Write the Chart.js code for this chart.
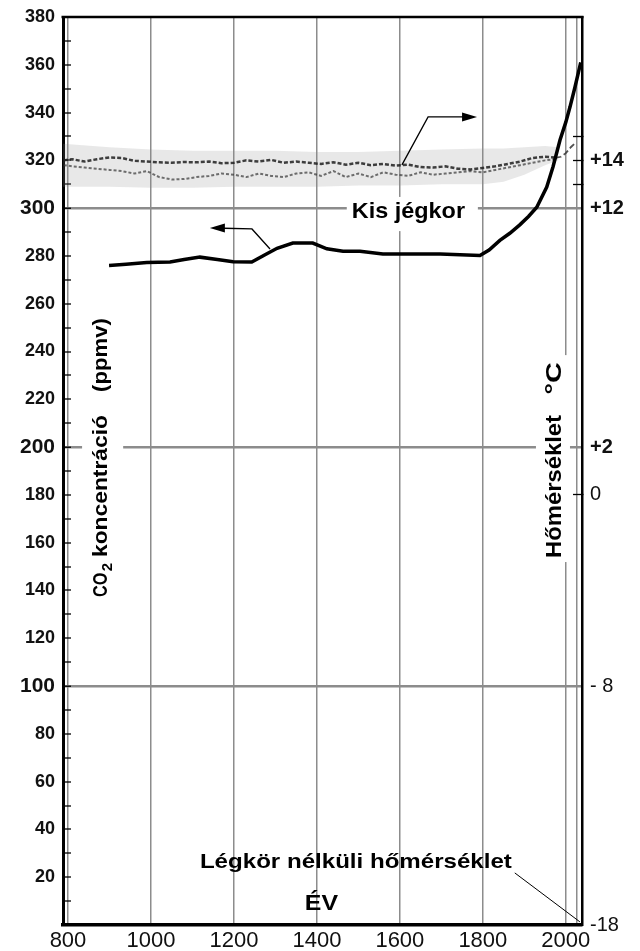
<!DOCTYPE html>
<html><head><meta charset="utf-8">
<script src="https://cdn.jsdelivr.net/npm/chart.js@4/dist/chart.umd.min.js"></script>
<style>html,body{margin:0;padding:0;background:#fff}#wrap{width:640px;height:951px}</style>
</head><body><div id="wrap"><canvas id="c" width="640" height="951"></canvas></div>
<script>
// ---- data ----
const co2Years = [899, 940, 990, 1046, 1080, 1118, 1160, 1198, 1243, 1275, 1304, 1342, 1390, 1424, 1463, 1504, 1559, 1600, 1697, 1793, 1815, 1841, 1865, 1889, 1910, 1930, 1954, 1969, 1986, 2000, 2010, 2022, 2036];
const co2Ppm   = [276, 276.5, 277.3, 277.5, 278.5, 279.5, 278.5, 277.6, 277.5, 280.5, 283.2, 285.4, 285.4, 283, 282, 282, 280.8, 280.8, 280.8, 280.2, 282.5, 286.5, 289.5, 293, 296.5, 300.4, 308.8, 317.2, 328.5, 336, 342.3, 350.6, 361];

const tempYears = [790, 810, 840, 870, 900, 930, 960, 990, 1020, 1050, 1080, 1110, 1140, 1170, 1200, 1230, 1260, 1290, 1320, 1350, 1380, 1410, 1440, 1470, 1500, 1530, 1560, 1590, 1620, 1650, 1680, 1710, 1740, 1770, 1800, 1830, 1860, 1890, 1920, 1950, 1975];
const tempUpper = [14.0, 14.05, 13.95, 14.05, 14.12, 14.1, 13.98, 13.95, 13.92, 13.9, 13.93, 13.92, 13.95, 13.88, 13.9, 14.0, 13.95, 14.02, 13.9, 13.95, 13.9, 13.85, 13.92, 13.82, 13.9, 13.8, 13.85, 13.78, 13.82, 13.72, 13.7, 13.75, 13.65, 13.62, 13.68, 13.75, 13.85, 13.95, 14.1, 14.15, 14.12];
const tempLower = [13.8, 13.75, 13.7, 13.65, 13.6, 13.55, 13.45, 13.55, 13.3, 13.2, 13.22, 13.3, 13.35, 13.45, 13.4, 13.3, 13.45, 13.35, 13.3, 13.45, 13.5, 13.35, 13.55, 13.3, 13.45, 13.3, 13.5, 13.4, 13.35, 13.5, 13.4, 13.45, 13.5, 13.55, 13.5, 13.6, 13.7, 13.8, 13.9, 14.0, 14.05];

const recentYears = [1975, 1988, 2000, 2012, 2024];
const recentTemp  = [14.1, 14.15, 14.3, 14.55, 14.75];

const bandYears  = [788, 900, 1000, 1100, 1200, 1300, 1400, 1500, 1600, 1700, 1800, 1850, 1900, 1950, 1982];
const bandTop    = [14.7, 14.55, 14.45, 14.4, 14.4, 14.4, 14.35, 14.35, 14.4, 14.45, 14.5, 14.5, 14.55, 14.6, 14.55];
const bandBottom = [12.9, 12.9, 12.85, 12.85, 12.9, 12.9, 12.9, 12.95, 12.95, 13.0, 13.0, 13.1, 13.4, 13.8, 14.0];

const xTickYears = [800, 1000, 1200, 1400, 1600, 1800, 2000];
const xExtraLines = [2026];
const co2MajorLines = [100, 200, 300];
const tempTickValues = [-18, -8, 0, 2, 12, 13, 14, 15];
const tempTickLabels = {'-18': '-18', '-8': '- 8', '0': '0', '2': '+2', '12': '+12', '14': '+14'};
const tempBoldTicks = [2, 12, 14];

// ---- helpers ----
const FF = '"Liberation Sans", Arial, sans-serif';
const pts = (xs, ys) => xs.map((x, i) => ({x: x, y: ys[i]}));

function spanText(ctx, text, x0, x1, y) {
  const w = ctx.measureText(text).width;
  ctx.save();
  ctx.translate(x0, y);
  ctx.scale((x1 - x0) / w, 1);
  ctx.textAlign = 'left';
  ctx.textBaseline = 'alphabetic';
  ctx.fillText(text, 0, 0);
  ctx.restore();
}

const notes = {
  kis:   {text: 'Kis jégkor', x0: 1484, x1: 1757, base: 295.9, font: 'bold 22px ' + FF, box: [1472, 1788, 304.7, 290.4]},
  legk:  {text: 'Légkör nélküli hőmérséklet', x0: 1118, x1: 1870, base: 23.9, font: 'bold 21px ' + FF},
  ev:    {text: 'ÉV', x0: 1371, x1: 1451, base: 6.3, font: 'bold 22px ' + FF},
  co2:   {baseYear: 894, box: [834, 933, 257.4, 133.9]},
  hom:   {baseYear: 1988, box: [1928, 2010, 238.5, 151.9]}
};

const annotPlugin = {
  id: 'annot',
  beforeDatasetsDraw(chart) {
    const ctx = chart.ctx, xs = chart.scales.x, ys = chart.scales.y;
    const X = v => xs.getPixelForValue(v), Y = v => ys.getPixelForValue(v);
    ctx.save();
    ctx.fillStyle = '#fff';
    for (const k of ['kis', 'co2', 'hom']) {
      const b = notes[k].box;
      ctx.fillRect(X(b[0]), Y(b[2]), X(b[1]) - X(b[0]), Y(b[3]) - Y(b[2]));
    }
    ctx.fillStyle = '#000';
    for (const k of ['kis', 'legk', 'ev']) {
      const n = notes[k];
      ctx.font = n.font;
      spanText(ctx, n.text, X(n.x0), X(n.x1), Y(n.base));
    }
    const rot = (baseYear, pieces) => {
      const bx = X(baseYear);
      ctx.save();
      ctx.translate(bx, 0);
      ctx.rotate(-Math.PI / 2);
      for (const p of pieces) {
        ctx.font = p.font;
        spanText(ctx, p.text, -Y(p.from), -Y(p.to), p.dy || 0);
      }
      ctx.restore();
    };
    rot(notes.co2.baseYear, [
      {text: 'CO', font: 'bold 21px ' + FF, from: 137.3, to: 147.5},
      {text: '2', font: 'bold 15px ' + FF, from: 148, to: 151.5, dy: 5},
      {text: 'koncentráció', font: 'bold 21px ' + FF, from: 154, to: 213.4},
      {text: '(ppmv)', font: 'bold 21px ' + FF, from: 223.1, to: 254}
    ]);
    rot(notes.hom.baseYear, [
      {text: 'Hőmérséklet', font: 'bold 22px ' + FF, from: 153.6, to: 213.4},
      {text: '°C', font: 'bold 22px ' + FF, from: 222, to: 235.6}
    ]);
    ctx.restore();
  },
  afterDatasetsDraw(chart) {
    const ctx = chart.ctx, xs = chart.scales.x, ys = chart.scales.y;
    const X = v => xs.getPixelForValue(v), Y = v => ys.getPixelForValue(v);
    ctx.save();
    ctx.strokeStyle = '#000';
    ctx.fillStyle = '#000';
    ctx.lineWidth = 1.3;
    ctx.beginPath();
    ctx.moveTo(X(1605), Y(318.1)); ctx.lineTo(X(1668), Y(338.2)); ctx.lineTo(X(1752), Y(338.2));
    ctx.stroke();
    let tx = X(1786), ty = Y(338.2);
    ctx.beginPath(); ctx.moveTo(tx, ty); ctx.lineTo(tx - 15, ty - 4.5); ctx.lineTo(tx - 15, ty + 4.5); ctx.closePath(); ctx.fill();
    ctx.beginPath();
    ctx.moveTo(X(1287), Y(282.9)); ctx.lineTo(X(1243.5), Y(291.3)); ctx.lineTo(X(1175), Y(291.6));
    ctx.stroke();
    tx = X(1142); ty = Y(291.7);
    ctx.beginPath(); ctx.moveTo(tx, ty); ctx.lineTo(tx + 15, ty - 4.5); ctx.lineTo(tx + 15, ty + 4.5); ctx.closePath(); ctx.fill();
    ctx.lineWidth = 1;
    ctx.beginPath(); ctx.moveTo(X(1877), Y(21.8)); ctx.lineTo(X(2034), Y(1.3)); ctx.stroke();
    const ca = chart.chartArea;
    ctx.lineWidth = 2.5;
    ctx.beginPath(); ctx.moveTo(ca.left - 1.5, ca.top); ctx.lineTo(ca.right + 1.5, ca.top); ctx.stroke();
    ctx.restore();
  }
};

const noVertPad = s => { s.paddingTop = 0; s.paddingBottom = 0; };

new Chart(document.getElementById('c'), {
  type: 'line',
  data: {
    datasets: [
      {data: pts(bandYears, bandTop), yAxisID: 'y1', borderWidth: 0, borderColor: 'rgba(0,0,0,0)', pointRadius: 0, fill: false, order: 3},
      {data: pts(bandYears, bandBottom), yAxisID: 'y1', borderWidth: 0, borderColor: 'rgba(0,0,0,0)', pointRadius: 0, fill: '-1', backgroundColor: 'rgba(140,140,140,0.2)', order: 3},
      {data: pts(tempYears, tempUpper), yAxisID: 'y1', borderColor: 'rgba(30,30,30,0.85)', borderWidth: 2.5, borderDash: [4, 2], pointRadius: 0, fill: false, order: 2},
      {data: pts(tempYears, tempLower), yAxisID: 'y1', borderColor: 'rgba(55,55,55,0.7)', borderWidth: 2, borderDash: [3, 2], pointRadius: 0, fill: false, order: 2},
      {data: pts(recentYears, recentTemp), yAxisID: 'y1', borderColor: 'rgba(50,50,50,0.85)', borderWidth: 1.8, borderDash: [6, 3], pointRadius: 0, fill: false, order: 2},
      {data: pts(co2Years, co2Ppm), yAxisID: 'y', borderColor: '#000', borderWidth: 3.5, pointRadius: 0, fill: false, order: 0}
    ]
  },
  options: {
    responsive: false,
    animation: false,
    devicePixelRatio: 1,
    layout: {padding: {top: 17, left: 0, right: 0, bottom: 0}},
    plugins: {legend: {display: false}, tooltip: {enabled: false}},
    elements: {line: {tension: 0}},
    scales: {
      x: {
        type: 'linear', min: 788, max: 2039,
        afterBuildTicks: s => { s.ticks = xTickYears.concat(xExtraLines).map(v => ({value: v})); },
        afterFit: s => { s.height = 26; },
        ticks: {
          autoSkip: false, maxRotation: 0, padding: 3,
          callback: v => xTickYears.includes(v) ? String(v) : '',
          font: {family: FF, size: 22, weight: 'normal'}, color: '#111'
        },
        grid: {color: '#8c8c8c', lineWidth: 1.5, drawTicks: false},
        border: {color: '#000', width: 3.5}
      },
      y: {
        type: 'linear', position: 'left', min: 0, max: 380,
        afterFit: s => { s.width = 63; noVertPad(s); },
        ticks: {
          stepSize: 10, autoSkip: false, padding: 16, color: '#111',
          callback: v => (v % 20 === 0 && v > 0) ? String(v) : '',
          font: c => co2MajorLines.includes(c.tick && c.tick.value) ? {family: FF, size: 21, weight: 'bold'} : {family: FF, size: 18, weight: 'bold'}
        },
        grid: {
          color: c => co2MajorLines.includes(c.tick && c.tick.value) ? '#8c8c8c' : 'rgba(0,0,0,0)',
          lineWidth: c => co2MajorLines.includes(c.tick && c.tick.value) ? 2.5 : 0,
          tickLength: -8, tickColor: '#000', tickWidth: 1.3
        },
        border: {color: '#000', width: 3}
      },
      y1: {
        type: 'linear', position: 'right', min: -18, max: 20,
        afterBuildTicks: s => { s.ticks = tempTickValues.map(v => ({value: v})); },
        afterFit: s => { s.width = 58; noVertPad(s); },
        ticks: {
          autoSkip: false, padding: 17, color: '#111',
          callback: v => tempTickLabels[String(v)] || '',
          font: c => tempBoldTicks.includes(c.tick && c.tick.value) ? {family: FF, size: 20, weight: 'bold'} : {family: FF, size: 20, weight: 'normal'}
        },
        grid: {
          drawOnChartArea: false, tickLength: -9,
          tickColor: c => [0, 13, 14, 15].includes(c.tick && c.tick.value) ? '#000' : 'rgba(0,0,0,0)',
          tickWidth: 1.3
        },
        border: {color: '#000', width: 2.5}
      }
    }
  },
  plugins: [annotPlugin]
});
</script>
</body></html>
